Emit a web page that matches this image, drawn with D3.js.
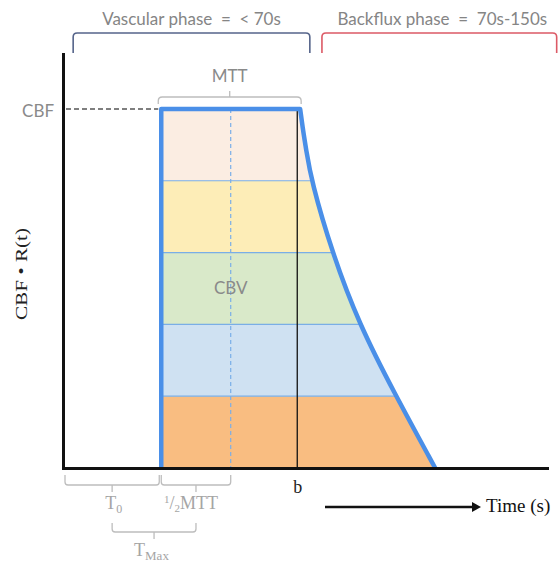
<!DOCTYPE html>
<html>
<head>
<meta charset="utf-8">
<script src="https://cdn.jsdelivr.net/npm/d3@7/dist/d3.min.js"></script>
<style>
  html, body { margin: 0; padding: 0; background: #fff; }
  svg { display: block; }
</style>
</head>
<body>
<div id="chart"></div>
<script>
'use strict';

// time in arbitrary units, residue as fraction of CBF
var t0 = 20.3;
var mtt = 28.7;
var bTime = 48.4;
var tailTime = [49.0, 49.6, 50.2, 51.3, 55.6, 61.2, 68.4, 76.9];
var tailValue = [1.0, 0.94, 0.89, 0.80, 0.60, 0.40, 0.21, 0.0];
var bandEdges = [0, 0.2, 0.4, 0.6, 0.8, 1.0];
var bandColors = ['#f9bd81', '#cfe1f2', '#d9e9c9', '#fdedb7', '#fbede2'];
var phaseLabels = ['Vascular phase  =  < 70s', 'Backflux phase  =  70s-150s'];
var phaseStart = [2.1, 53.5];
var phaseEnd = [51.0, 102.0];
var phaseColors = ['#55648a', '#dc5a66'];

var width = 559, height = 567;
var sans = 'Lato, "Open Sans", sans-serif';
var serif = '"Liberation Serif", "DejaVu Serif", serif';
var gray = '#bdbdbd';

var svg = d3.select('#chart').append('svg')
  .attr('width', width)
  .attr('height', height);

var x = d3.scaleLinear().domain([0, 100]).range([63, 547]);
var y = d3.scaleLinear().domain([0, 1.153]).range([468, 54]);

var tail = tailTime.map(function(t, i) { return [t, tailValue[i]]; });
var tailPath = d3.line()
  .x(function(d) { return x(d[0]); })
  .y(function(d) { return y(d[1]); })
  .curve(d3.curveBasis)(tail);
var outline = 'M' + x(t0) + ',' + y(0) + 'L' + x(t0) + ',' + y(1) + tailPath.replace(/^M/, 'L');

svg.append('defs').append('clipPath').attr('id', 'shape')
  .append('path').attr('d', outline + 'Z');

var inside = svg.append('g').attr('clip-path', 'url(#shape)');

inside.selectAll('rect.band')
  .data(bandColors)
  .enter().append('rect')
  .attr('class', 'band')
  .attr('x', x(t0))
  .attr('width', x(90) - x(t0))
  .attr('y', function(d, i) { return y(bandEdges[i + 1]); })
  .attr('height', function(d, i) { return y(bandEdges[i]) - y(bandEdges[i + 1]); })
  .attr('fill', function(d) { return d; });

inside.selectAll('line.edge')
  .data(bandEdges.slice(1, -1))
  .enter().append('line')
  .attr('x1', x(t0)).attr('x2', x(90))
  .attr('y1', function(d) { return y(d); })
  .attr('y2', function(d) { return y(d); })
  .attr('stroke', '#7aaee6')
  .attr('stroke-width', 1.2);

inside.append('line')
  .attr('x1', x(t0 + mtt / 2)).attr('x2', x(t0 + mtt / 2))
  .attr('y1', y(1)).attr('y2', y(0))
  .attr('stroke', '#79aee8')
  .attr('stroke-width', 1.2)
  .attr('stroke-dasharray', '4,3');

svg.append('line')
  .attr('x1', x(bTime)).attr('x2', x(bTime))
  .attr('y1', y(1) + 2).attr('y2', y(0))
  .attr('stroke', '#111')
  .attr('stroke-width', 1.3);

svg.append('path')
  .attr('d', outline)
  .attr('fill', 'none')
  .attr('stroke', '#4a8fe8')
  .attr('stroke-width', 4.5)
  .attr('stroke-linejoin', 'round');

svg.append('line')
  .attr('x1', x(0) + 3).attr('x2', x(t0) - 3)
  .attr('y1', y(1)).attr('y2', y(1))
  .attr('stroke', '#555')
  .attr('stroke-width', 1.4)
  .attr('stroke-dasharray', '5,3');

// axes without ticks, thick domain lines
svg.append('g')
  .attr('transform', 'translate(0,' + y(0) + ')')
  .call(d3.axisBottom(x).tickValues([]).tickSizeOuter(0));
svg.append('g')
  .attr('transform', 'translate(' + x(0) + ',0)')
  .call(d3.axisLeft(y).tickValues([]).tickSizeOuter(0));
svg.selectAll('.domain')
  .attr('stroke', '#111')
  .attr('stroke-width', 3)
  .attr('stroke-linecap', 'square');

// phase brackets
function topBracket(x1, x2, yTop, yBot) {
  var r = 4;
  return 'M' + x1 + ',' + yBot + 'V' + (yTop + r) + 'Q' + x1 + ',' + yTop + ' ' + (x1 + r) + ',' + yTop +
    'H' + (x2 - r) + 'Q' + x2 + ',' + yTop + ' ' + x2 + ',' + (yTop + r) + 'V' + yBot;
}

phaseLabels.forEach(function(label, i) {
  var x1 = x(phaseStart[i]), x2 = x(phaseEnd[i]);
  svg.append('path')
    .attr('d', topBracket(x1, x2, 33, 53))
    .attr('fill', 'none')
    .attr('stroke', phaseColors[i])
    .attr('stroke-width', 1.6);
  svg.append('text')
    .attr('x', (x1 + x2) / 2 + (i ? 3 : 0))
    .attr('y', 25)
    .attr('text-anchor', 'middle')
    .attr('font-family', sans)
    .attr('font-size', 17)
    .attr('fill', '#858585')
    .attr('xml:space', 'preserve')
    .text(label);
});

// MTT bracket
var mttLeft = x(t0) - 3, mttRight = x(t0 + mtt) + 1, mttMid = (mttLeft + mttRight) / 2;
svg.append('path')
  .attr('d', topBracket(mttLeft, mttRight, 97, 104) + 'M' + mttMid + ',97V91')
  .attr('fill', 'none')
  .attr('stroke', gray)
  .attr('stroke-width', 1.3);
svg.append('text')
  .attr('x', mttMid).attr('y', 82)
  .attr('text-anchor', 'middle')
  .attr('font-family', sans)
  .attr('font-size', 17)
  .attr('fill', '#8a8a8a')
  .text('MTT');

svg.append('text')
  .attr('x', x(0) - 9).attr('y', y(1) + 8)
  .attr('text-anchor', 'end')
  .attr('font-family', sans)
  .attr('font-size', 17)
  .attr('fill', '#8a8a8a')
  .text('CBF');

svg.append('text')
  .attr('x', x(t0 + mtt / 2)).attr('y', y(0.5) + 6)
  .attr('text-anchor', 'middle')
  .attr('font-family', sans)
  .attr('font-size', 17)
  .attr('fill', '#8a8a8a')
  .text('CBV');

// braces under the time axis
function bottomBrace(x1, x2, yTop, yLine) {
  var r = 3, cx = (x1 + x2) / 2;
  return 'M' + x1 + ',' + yTop + 'V' + (yLine - r) + 'Q' + x1 + ',' + yLine + ' ' + (x1 + r) + ',' + yLine +
    'H' + (x2 - r) + 'Q' + x2 + ',' + yLine + ' ' + x2 + ',' + (yLine - r) + 'V' + yTop +
    'M' + cx + ',' + yLine + 'V' + (yLine + 7);
}

var c0 = (x(0) + 2 + x(t0) - 2) / 2;
var c1 = (x(t0) + x(t0 + mtt / 2)) / 2;
svg.append('path')
  .attr('d', bottomBrace(x(0) + 2, x(t0) - 2, 475, 485) +
    bottomBrace(x(t0), x(t0 + mtt / 2), 475, 485) +
    bottomBrace(c0, c1, 523, 532))
  .attr('fill', 'none')
  .attr('stroke', gray)
  .attr('stroke-width', 1.3);

function serifText(px, py, size, color) {
  return svg.append('text')
    .attr('x', px).attr('y', py)
    .attr('font-family', serif)
    .attr('font-size', size)
    .attr('fill', color);
}

var tLabel = serifText(c0 - 7, 509, 18, '#a5a5a5');
tLabel.append('tspan').text('T');
tLabel.append('tspan').attr('font-size', 12).attr('dy', 4).text('0');

var halfLabel = serifText(c1 - 32, 509, 18, '#a5a5a5');
halfLabel.append('tspan').attr('font-size', 11).attr('dy', -6).text('1');
halfLabel.append('tspan').attr('dy', 6).text('/');
halfLabel.append('tspan').attr('font-size', 11).attr('dy', 3).text('2');
halfLabel.append('tspan').attr('dy', -3).text('MTT');

var maxLabel = serifText((c0 + c1) / 2 - 20, 556, 18, '#a5a5a5');
maxLabel.append('tspan').text('T');
maxLabel.append('tspan').attr('font-size', 13).attr('dy', 4).text('Max');

serifText(x(bTime) - 4, 493, 18, '#222').text('b');

// time arrow
svg.append('line')
  .attr('x1', 325).attr('x2', 474)
  .attr('y1', 507).attr('y2', 507)
  .attr('stroke', '#111')
  .attr('stroke-width', 2.6);
svg.append('path')
  .attr('d', 'M472,502L481,507L472,512Z')
  .attr('fill', '#111');
serifText(486, 512, 19, '#111').text('Time (s)');

svg.append('text')
  .attr('transform', 'translate(27,274) rotate(-90)')
  .attr('text-anchor', 'middle')
  .attr('font-family', serif)
  .attr('font-size', 16)
  .attr('fill', '#222')
  .attr('textLength', 92)
  .attr('lengthAdjust', 'spacingAndGlyphs')
  .text('CBF \u2022 R(t)');
</script>
</body>
</html>
